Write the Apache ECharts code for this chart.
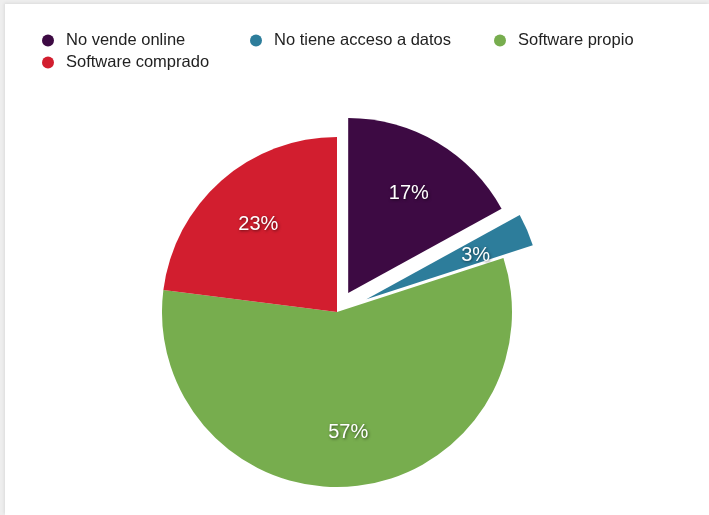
<!DOCTYPE html>
<html>
<head>
<meta charset="utf-8">
<script src="https://cdn.jsdelivr.net/npm/echarts@6/dist/echarts.min.js"></script>
<style>
  html, body { margin: 0; padding: 0; background: #eeeeee; width: 709px; height: 515px; overflow: hidden; }
  #chart { position: absolute; left: 5px; top: 4px; width: 704px; height: 511px; background: #ffffff; box-shadow: -1px -1px 3px rgba(0,0,0,0.08); }
</style>
</head>
<body>
<div id="chart"></div>
<script>
// ---- data ----
const categories = ['No vende online', 'No tiene acceso a datos', 'Software propio', 'Software comprado'];
const values = [17, 3, 57, 23];
const colors = ['#3d0a43', '#2d7d9b', '#77ad4e', '#d21e2f'];

// ---- build ----
const FONT = "'Liberation Sans', Arial, Helvetica, sans-serif";
const CENTER = [332, 308];
const R = 175;
const TRANSPARENT = 'rgba(0,0,0,0)';

function mkData(opts) {
  return categories.map(function (name, i) {
    const o = opts(i);
    return Object.assign({ name: name, value: values[i] }, o);
  });
}

// series A: all slices except the blue one; purple pulled out
const seriesA = {
  type: 'pie', center: CENTER, radius: [0, R], startAngle: 90, clockwise: true,
  selectedMode: 'single', selectedOffset: 22, silent: true, animation: false,
  label: { show: false }, labelLine: { show: false },
  data: mkData(function (i) {
    return {
      selected: i === 0,
      itemStyle: { color: i === 1 ? TRANSPARENT : colors[i] }
    };
  })
};
// series B: only the blue slice, pulled further out
const seriesB = {
  type: 'pie', center: CENTER, radius: [0, R], startAngle: 90, clockwise: true,
  selectedMode: 'single', selectedOffset: 32, silent: true, animation: false,
  label: { show: false }, labelLine: { show: false },
  data: mkData(function (i) {
    return {
      selected: i === 1,
      itemStyle: { color: i === 1 ? colors[i] : TRANSPARENT }
    };
  })
};
const labelStyle = {
  show: true, position: 'inside', formatter: '{c}%', color: '#ffffff',
  fontFamily: FONT, fontSize: 20, offset: [0, 2],
  textShadowColor: 'rgba(0,0,0,0.55)', textShadowBlur: 3, textShadowOffsetX: 1, textShadowOffsetY: 1
};
const selectLabel = { label: { offset: [0, 3] } };
// series C: label carrier for purple / green / red
const seriesC = {
  type: 'pie', center: CENTER, radius: [57, R], startAngle: 90, clockwise: true,
  selectedMode: 'single', selectedOffset: 22, silent: true, animation: false,
  avoidLabelOverlap: false, labelLine: { show: false },
  itemStyle: { color: TRANSPARENT },
  select: selectLabel,
  data: mkData(function (i) {
    return {
      selected: i === 0,
      itemStyle: { color: TRANSPARENT },
      label: i === 1 ? { show: false } : labelStyle
    };
  })
};
// series D: label carrier for blue
const seriesD = {
  type: 'pie', center: CENTER, radius: [57, R], startAngle: 90, clockwise: true,
  selectedMode: 'single', selectedOffset: 32, silent: true, animation: false,
  avoidLabelOverlap: false, labelLine: { show: false },
  select: selectLabel,
  data: mkData(function (i) {
    return {
      selected: i === 1,
      itemStyle: { color: TRANSPARENT },
      label: i === 1 ? labelStyle : { show: false }
    };
  })
};

const legendPos = [[37, 28], [245, 28], [489, 28], [37, 50]];
const legends = categories.map(function (name, i) {
  return {
    left: legendPos[i][0], top: legendPos[i][1], padding: 0,
    icon: 'circle', itemWidth: 26, itemHeight: 12, selectedMode: false,
    textStyle: { color: '#222222', fontSize: 16.5, fontFamily: FONT },
    data: [{ name: name, itemStyle: { color: colors[i] } }]
  };
});

const chart = echarts.init(document.getElementById('chart'), null, { renderer: 'canvas' });
chart.setOption({
  animation: false,
  backgroundColor: '#ffffff',
  legend: legends,
  series: [seriesA, seriesB, seriesC, seriesD]
});
</script>
</body>
</html>
